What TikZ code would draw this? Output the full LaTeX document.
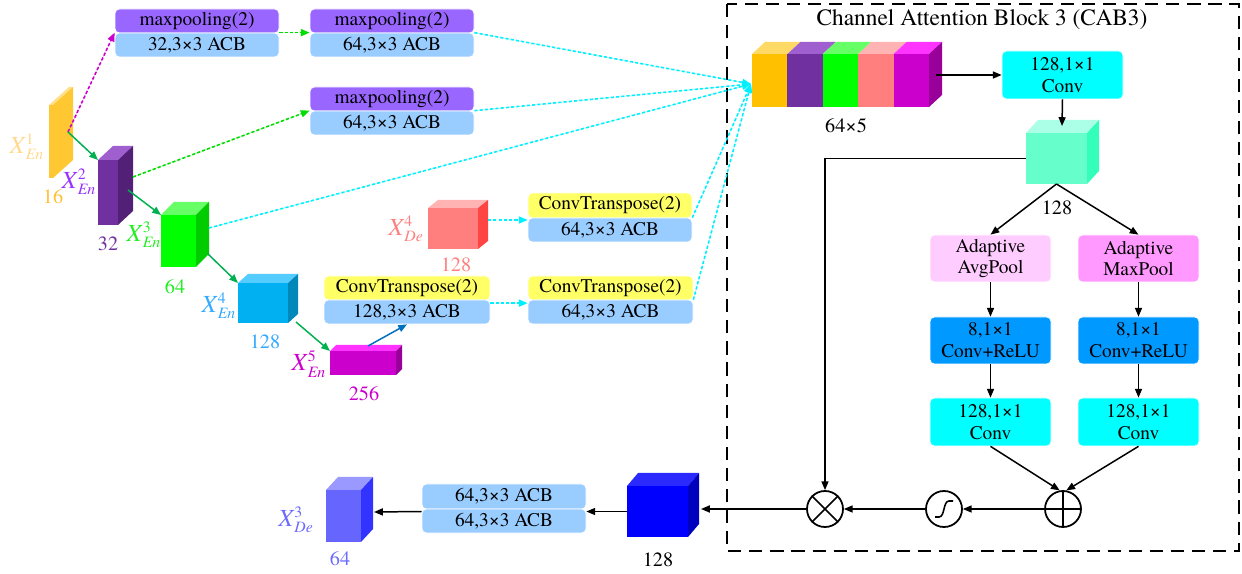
\documentclass[tikz,border=0pt]{standalone}
\usepackage{fontspec}
\setmainfont{texgyretermes}[Extension=.otf, UprightFont=*-regular, ItalicFont=*-italic, BoldFont=*-bold, BoldItalicFont=*-bolditalic]
\usetikzlibrary{arrows.meta,calc}

% palette
\definecolor{boxPur}{HTML}{9966FF}
\definecolor{boxLbl}{HTML}{99CCFF}
\definecolor{boxYel}{HTML}{FFFF66}
\definecolor{boxCya}{HTML}{00FFFF}
\definecolor{boxAvg}{HTML}{FFCCFF}
\definecolor{boxMax}{HTML}{FF99FF}
\definecolor{boxRelu}{HTML}{0099FF}
% cube faces: F front, T top, S side
\definecolor{yelF}{HTML}{FFC832}\definecolor{yelT}{HTML}{FFE08A}\definecolor{yelS}{HTML}{FFC832}
\definecolor{purF}{HTML}{7030A0}\definecolor{purT}{HTML}{9F5FCF}\definecolor{purS}{HTML}{532078}
\definecolor{grnF}{HTML}{00FF00}\definecolor{grnT}{HTML}{66FF66}\definecolor{grnS}{HTML}{00CC00}
\definecolor{bluF}{HTML}{00B0F0}\definecolor{bluT}{HTML}{55CCFF}\definecolor{bluS}{HTML}{0088BB}
\definecolor{magF}{HTML}{CC00CC}\definecolor{magT}{HTML}{FF33FF}\definecolor{magS}{HTML}{990099}
\definecolor{pnkF}{HTML}{FF7F7F}\definecolor{pnkT}{HTML}{FFB3B3}\definecolor{pnkS}{HTML}{FF4444}
\definecolor{aqF}{HTML}{66FFCC}\definecolor{aqT}{HTML}{AAFFE6}\definecolor{aqS}{HTML}{33FFBB}
\definecolor{dbF}{HTML}{0000FF}\definecolor{dbT}{HTML}{2A2AFF}\definecolor{dbS}{HTML}{0000BF}
\definecolor{perF}{HTML}{6666FF}\definecolor{perT}{HTML}{9999FF}\definecolor{perS}{HTML}{3333FF}
\definecolor{catY}{HTML}{FFC000}\definecolor{catYT}{HTML}{FFD966}
% lines and labels
\definecolor{lnGreen}{HTML}{00B050}
\definecolor{lnLime}{HTML}{00DD00}
\definecolor{lnCyan}{HTML}{00F0FF}
\definecolor{lnBlue}{HTML}{0070C0}
\definecolor{lnMag}{HTML}{CC00CC}
\definecolor{tYelX}{HTML}{FFD98C}\definecolor{tYelN}{HTML}{FFC133}
\definecolor{tPurX}{HTML}{9933FF}\definecolor{tPurN}{HTML}{7030A0}
\definecolor{tGrn}{HTML}{22EE22}
\definecolor{tBlu}{HTML}{33AAFF}
\definecolor{tMag}{HTML}{CC00CC}
\definecolor{tPnk}{HTML}{FF8080}
\definecolor{tPer}{HTML}{6B6BFF}

\newcommand\pxu{0.02cm}

% box: name, fill, centre x, centre y, width, height, text
\newcommand\tilenode[7]{%
  \node[tile, fill=#2, minimum width=#5*\pxu, minimum height=#6*\pxu] (#1) at (#3,#4) {#7};}

% cube: name, front left x, front top y, width, height, depth x, depth y, colour prefix
\newcommand\cubeat[8]{%
  \node[inner sep=0, outer sep=0, minimum width=#4*\pxu, minimum height=#5*\pxu,
        fill=#8F, anchor=north west] (#1) at (#2,#3) {};
  \fill[#8T] (#1.north west) -- ++(#6,-#7) -- ++(#4,0) -- (#1.north east) -- cycle;
  \fill[#8S] (#1.north east) -- ++(#6,-#7) -- ++(0,#5) -- (#1.south east) -- cycle;}

% feature-map label X^a_b
\newcommand\xlab[2]{\textit{X}$^{\mbox{\fontsize{9}{9}\selectfont #1}}_{\mbox{\fontsize{9}{9}\selectfont\itshape #2}}$}

\tikzset{
  tile/.style={rounded corners=2.5pt, draw=white, line width=0.4pt, inner sep=0,
               font=\fontsize{11}{12.5}\selectfont, align=center},
  tip/.style={-{Triangle[length=5pt,width=4pt]}},
  blk/.style={tip, line width=0.85pt},
  solidc/.style={tip, line width=0.85pt, draw=#1},
  dotc/.style={tip, line width=0.9pt, dash pattern=on 1.8pt off 1.2pt, draw=#1, fill=#1},
  num/.style={inner sep=0, font=\fontsize{11.5}{12}\selectfont},
  xl/.style={inner sep=0, font=\fontsize{14}{14}\selectfont},
  opnode/.style={circle, draw, line width=1pt, minimum size=36*\pxu, inner sep=0},
}

\begin{document}
\begin{tikzpicture}[x=0.02cm,y=-0.02cm]
\useasboundingbox (0,0) rectangle (1242,574);

% ---------- attention block frame ----------
\draw[line width=1.2pt, dash pattern=on 7.5pt off 4.5pt] (727,4) rectangle (1239,551);
\node[font=\fontsize{13.3}{14}\selectfont, inner sep=0] (title) at (982,20) {Channel Attention Block 3 (CAB3)};

% ---------- encoder / decoder feature maps ----------
\cubeat{c1}{49}{105}{4}{73}{20}{18}{yel}
\cubeat{c2}{98}{160}{20}{65}{15}{14}{pur}
\cubeat{c3}{161}{215}{35}{52}{13}{13}{grn}
\cubeat{c4}{238}{283}{50}{40}{10}{9}{blu}
\cubeat{c5}{330}{351}{66}{24}{6}{6}{mag}
\cubeat{d4}{428}{208}{50}{41}{10}{8}{pnk}
\cubeat{cc}{1026}{133}{61}{51}{12}{13}{aq}
\cubeat{bc}{627}{486}{61}{51}{11}{13}{db}
\cubeat{d3}{326}{490}{35}{52}{12}{13}{per}

% ---------- concatenated block 64x5 ----------
\foreach \fc/\tc [count=\i from 0] in {catY/catYT, purF/purT, grnF/grnT, pnkF/pnkT, magF/magT}{
  \fill[\fc] (752+35.4*\i,54) rectangle (752+35.4*\i+35.4,107);
  \fill[\tc] (752+35.4*\i,54) -- (765+35.4*\i,42) -- (765+35.4*\i+35.4,42) -- (752+35.4*\i+35.4,54) -- cycle;
}
\fill[magS] (929,54) -- (942,42) -- (942,95) -- (929,107) -- cycle;
\node[inner sep=0, outer sep=0, minimum width=177*\pxu, minimum height=53*\pxu] (cat) at (840.5,80.5) {};

% ---------- operation boxes ----------
\tilenode{pA}{boxPur}{197}{21}{164}{24}{maxpooling(2)}
\tilenode{bA}{boxLbl}{197}{45}{164}{24}{32,3×3 ACB}
\tilenode{pB}{boxPur}{392}{21}{164}{24}{maxpooling(2)}
\tilenode{bB}{boxLbl}{392}{45}{164}{24}{64,3×3 ACB}
\tilenode{pC}{boxPur}{392}{99}{164}{24}{maxpooling(2)}
\tilenode{bC}{boxLbl}{392}{123}{164}{24}{64,3×3 ACB}
\tilenode{yD}{boxYel}{610}{205.5}{164}{25}{ConvTranspose(2)}
\tilenode{bD}{boxLbl}{610}{230}{164}{24}{64,3×3 ACB}
\tilenode{yE}{boxYel}{610.5}{288}{165}{24}{ConvTranspose(2)}
\tilenode{bE}{boxLbl}{610.5}{312}{165}{24}{64,3×3 ACB}
\tilenode{yF}{boxYel}{407}{288}{166}{24}{ConvTranspose(2)}
\tilenode{bF}{boxLbl}{407}{312}{166}{24}{128,3×3 ACB}
\tilenode{acbT}{boxLbl}{504}{496.5}{164}{25}{64,3×3 ACB}
\tilenode{acbB}{boxLbl}{504}{521}{164}{24}{64,3×3 ACB}

\tilenode{conv1}{boxCya}{1062.5}{75}{121}{48}{128,1×1\\Conv}
\tilenode{avg}{boxAvg}{990.5}{258.5}{121}{47}{Adaptive\\AvgPool}
\tilenode{mx}{boxMax}{1138.5}{258.5}{121}{47}{Adaptive\\MaxPool}
\tilenode{reluL}{boxRelu}{990.5}{340.5}{121}{47}{8,1×1\\Conv+ReLU}
\tilenode{reluR}{boxRelu}{1138.5}{340.5}{121}{47}{8,1×1\\Conv+ReLU}
\tilenode{convL}{boxCya}{990.5}{422}{121}{48}{128,1×1\\Conv}
\tilenode{convR}{boxCya}{1138.5}{422}{121}{48}{128,1×1\\Conv}

% ---------- operators ----------
\node[opnode] (mul) at (825,509) {};
\draw[line width=1pt] (mul.north west) -- (mul.south east) (mul.north east) -- (mul.south west);
\node[opnode] (sig) at (944,509) {};
\begin{scope}[shift={(sig.center)}]
  \draw[line width=0.9pt] (-9,8) -- (-5,8) .. controls (1,8) and (-1,-8) .. (5,-8) -- (9,-8);
\end{scope}
\node[opnode] (add) at (1063,509) {};
\draw[line width=1pt] (add.north) -- (add.south) (add.west) -- (add.east);

% ---------- labels ----------
\node[xl, text=tYelX] (l1) at (27,147) {\xlab{1}{En}};
\node[num, text=tYelN] (n1) at (53,197) {16};
\node[xl, text=tPurX] (l2) at (79,182) {\xlab{2}{En}};
\node[num, text=tPurN] (n2) at (108,244) {32};
\node[xl, text=tGrn] (l3) at (144,235) {\xlab{3}{En}};
\node[num, text=tGrn] (n3) at (175,287) {64};
\node[xl, text=tBlu] (l4) at (219,306) {\xlab{4}{En}};
\node[num, text=tBlu] (n4) at (265,342) {128};
\node[xl, text=tMag] (l5) at (309,364) {\xlab{5}{En}};
\node[num, text=tMag] (n5) at (364,394) {256};
\node[xl, text=tPnk] (l6) at (406,229) {\xlab{4}{De}};
\node[num, text=tPnk] (n6) at (456,265) {128};
\node[xl, text=tPer] (l7) at (296,520) {\xlab{3}{De}};
\node[num, text=tPer] (n7) at (340,559) {64};
\node[num] (n8) at (846,126) {64×5};
\node[num] (n9) at (1057,208) {128};
\node[num] (n10) at (658,560) {128};

% ---------- connector anchors on cube faces ----------
\coordinate (c1o) at (68,132);
\coordinate (c2a) at (133,177);
\coordinate (c2b) at (128,190);
\coordinate (c3a) at (209,228);
\coordinate (c3b) at (208,254);
\coordinate (c4b) at (296,322);
\coordinate (c5t) at (368,346);
\coordinate (d4s) at (488,220);
\coordinate (catin) at (751,84);
\coordinate (catside) at (936,75);
\coordinate (cctop) at (1062,126);
\coordinate (bcside) at (701,509);
\coordinate (d3side) at (374,512);

% ---------- encoder path ----------
\draw[dotc=lnMag] (c1o) -- (bA.north west);
\draw[solidc=lnGreen] (c1o) -- (c2.north west);
\draw[dotc=lnLime] (bA.north east) -- (bB.north west);
\draw[dotc=lnLime] (c2a) -- (bC.north west);
\draw[solidc=lnGreen] (c2b) -- (c3.north west);
\draw[solidc=lnGreen] (c3b) -- (c4.north west);
\draw[solidc=lnGreen] (c4b) -- (c5.north west);
\draw[solidc=lnBlue] (c5t) -- (bF.south);
\draw[dotc=lnCyan] (d4s) -- (d4s -| bD.west);
\draw[dotc=lnCyan] ([yshift=-2pt]bF.north east) -- ([yshift=-2pt]bE.north west);

% ---------- inputs gathered into the concatenated block ----------
\draw[dotc=lnCyan] (bB.north east) -- (catin);
\draw[dotc=lnCyan] (bC.north east) -- (catin);
\draw[dotc=lnCyan] (c3a) -- (catin);
\draw[dotc=lnCyan] (bD.north east) -- (catin);
\draw[dotc=lnCyan] (bE.north east) -- (catin);

% ---------- attention block flow ----------
\draw[blk] (catside) -- (conv1.west);
\draw[blk] (conv1.south) -- (cctop);
\draw[blk] (cc.west) -| (mul.north);
\draw[blk] (cc.south) -- (avg.north);
\draw[blk] (cc.south) -- (mx.north);
\draw[blk] (avg.south) -- (reluL.north);
\draw[blk] (reluL.south) -- (convL.north);
\draw[blk] (mx.south) -- (reluR.north);
\draw[blk] (reluR.south) -- (convR.north);
\draw[blk] (convL.south) -- (add.100);
\draw[blk] (convR.south) -- (add.80);
\draw[blk] (add.west) -- (sig.east);
\draw[blk] (sig.west) -- (mul.east);
\draw[blk] (mul.west) -- (bcside);

% ---------- decoder output ----------
\draw[blk] (bc.west) -- (bc.west -| acbB.east);
\draw[blk] (bc.west -| acbB.west) -- (d3side);
\end{tikzpicture}
\end{document}
